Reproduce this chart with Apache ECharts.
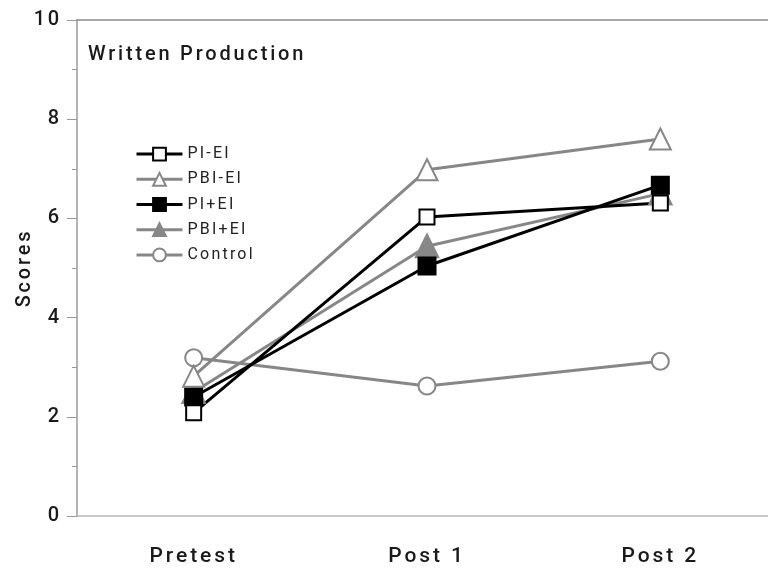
<!DOCTYPE html>
<html>
<head>
<meta charset="utf-8">
<script src="https://cdn.jsdelivr.net/npm/echarts@6/dist/echarts.min.js"></script>
<style>
  html, body { margin: 0; padding: 0; background: #fff; }
  #chart { width: 768px; height: 574px; }
</style>
</head>
<body>
<div id="chart"></div>
<script>
// data
const phases = ["Pretest", "Post 1", "Post 2"];
const piMinusEi = [2.08, 6.03, 6.31];
const pbiMinusEi = [2.82, 6.98, 7.6];
const piPlusEi = [2.4, 5.04, 6.67];
const pbiPlusEi = [2.5, 5.44, 6.5];
const control = [3.19, 2.62, 3.12];
const yTicks = [0, 2, 4, 6, 8, 10];

const BLACK = "#000000";
const GRAY = "#878787";
const FONT = "Roboto";

// the original typesetting is widely tracked; canvas letterSpacing is used for
// both drawing and measuring so echarts still aligns the labels correctly
function spacingFor(font) {
  const m = /(\d+(\.\d+)?)px/.exec(font || "");
  const size = m ? parseFloat(m[1]) : 12;
  return (size * 0.14).toFixed(1) + "px";
}
const measureCtx = document.createElement("canvas").getContext("2d");
echarts.setPlatformAPI({
  measureText: function (text, font) {
    measureCtx.font = font || "12px sans-serif";
    measureCtx.letterSpacing = spacingFor(measureCtx.font);
    return measureCtx.measureText(text);
  },
});
const origFillText = CanvasRenderingContext2D.prototype.fillText;
CanvasRenderingContext2D.prototype.fillText = function (text, x, y, maxW) {
  this.letterSpacing = spacingFor(this.font);
  return maxW === undefined
    ? origFillText.call(this, text, x, y)
    : origFillText.call(this, text, x, y, maxW);
};

function line(name, data, color, symbol, size) {
  return {
    name: name,
    type: "line",
    data: data,
    symbol: symbol,
    symbolSize: size,
    showSymbol: true,
    lineStyle: { color: color, width: 3 },
    itemStyle: { color: color, borderColor: color, borderWidth: 3 },
    emphasis: { disabled: true },
  };
}

const chart = echarts.init(document.getElementById("chart"), null, { renderer: "canvas" });

const option = {
  animation: false,
  backgroundColor: "#ffffff",
  title: {
    text: "Written Production",
    left: 88,
    top: 44,
    padding: 0,
    textStyle: { fontFamily: FONT, fontSize: 20, fontWeight: 500, color: "#1a1a1a" },
  },
  legend: {
    orient: "vertical",
    left: 135,
    top: 145,
    padding: 0,
    itemWidth: 46,
    itemHeight: 16,
    itemGap: 7,
    lineStyle: { width: 3 },
    textStyle: { fontFamily: FONT, fontSize: 16, color: "#222" },
    data: ["PI-EI", "PBI-EI", "PI+EI", "PBI+EI", "Control"],
  },
  grid: { left: 77, width: 700, top: 20, bottom: 58, outerBoundsMode: "none" },
  xAxis: [
    {
      type: "category",
      data: phases,
      boundaryGap: true,
      axisLine: { lineStyle: { color: "#b5b5b5", width: 1.5 } },
      axisTick: { alignWithLabel: true, length: 9, lineStyle: { color: "#999" } },
      axisLabel: { margin: 29, fontFamily: FONT, fontSize: 21, fontWeight: 500, color: "#1a1a1a" },
      splitLine: { show: false },
    },
    {
      type: "category",
      data: phases,
      position: "top",
      axisLine: { lineStyle: { color: "#8a8a8a", width: 1.5 } },
      axisTick: { show: false },
      axisLabel: { show: false },
    },
  ],
  yAxis: {
    type: "value",
    min: yTicks[0],
    max: yTicks[yTicks.length - 1],
    interval: 2,
    name: "Scores",
    nameLocation: "middle",
    nameGap: 41,
    nameMoveOverlap: false,
    nameTextStyle: { fontFamily: FONT, fontSize: 20, fontWeight: 500, color: "#1a1a1a" },
    axisLine: { show: true, lineStyle: { color: "#9a9a9a", width: 1.5 } },
    axisTick: { show: true, length: 10, lineStyle: { color: "#9a9a9a" } },
    minorTick: { show: true, splitNumber: 2, length: 5, lineStyle: { color: "#9a9a9a" } },
    axisLabel: { margin: 15, fontFamily: FONT, fontSize: 20, fontWeight: 500, color: "#1a1a1a" },
    splitLine: { show: false },
  },
  series: [
    line("Control", control, GRAY, "emptyCircle", 17),
    line("PBI+EI", pbiPlusEi, GRAY, "triangle", 21),
    line("PI+EI", piPlusEi, BLACK, "rect", 16),
    line("PBI-EI", pbiMinusEi, GRAY, "emptyTriangle", 21),
    line("PI-EI", piMinusEi, BLACK, "emptyRect", 15),
  ],
};

chart.setOption(option);
</script>
</body>
</html>
